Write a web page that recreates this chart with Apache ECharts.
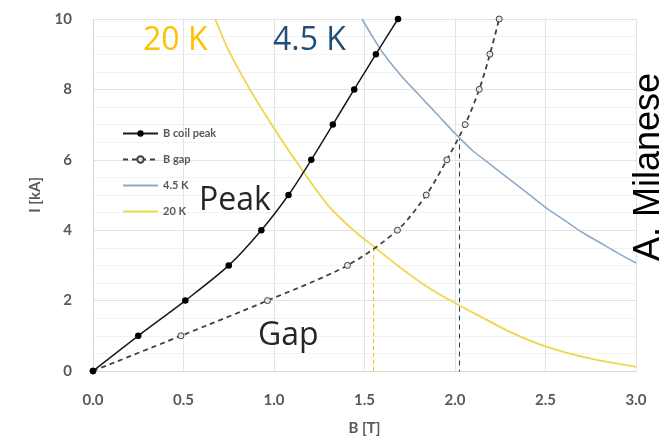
<!DOCTYPE html>
<html>
<head>
<meta charset="utf-8">
<script src="https://cdn.jsdelivr.net/npm/echarts@6/dist/echarts.min.js"></script>
<style>
html,body{margin:0;padding:0;background:#fff;}
#c{width:667px;height:441px;}
</style>
</head>
<body>
<div id="c"></div>
<script>
// ---- data ----
const coilB = [0, 0.25, 0.51, 0.75, 0.93, 1.08, 1.206, 1.325, 1.443, 1.563, 1.685];
const coilI = [0, 1, 2, 3, 4, 5, 6, 7, 8, 9, 10];

const gapB = [0, 0.486, 0.964, 1.406, 1.682, 1.841, 1.955, 2.056, 2.134, 2.193, 2.244];
const gapI = [0, 1, 2, 3, 4, 5, 6, 7, 8, 9, 10];

const k45B = [1.486, 1.55, 1.6, 1.7, 1.8, 1.9, 2.0, 2.1, 2.2, 2.3, 2.4, 2.5, 2.6, 2.7, 2.8, 2.9, 3.0];
const k45I = [10, 9.45, 9.05, 8.4, 7.85, 7.3, 6.75, 6.25, 5.85, 5.45, 5.05, 4.65, 4.3, 3.95, 3.65, 3.35, 3.07];

const k20B = [0.675, 0.75, 0.85, 0.95, 1.05, 1.16, 1.3, 1.45, 1.55, 1.7, 1.85, 2.0, 2.15, 2.3, 2.5, 2.75, 3.0];
const k20I = [10, 9.1, 8.15, 7.3, 6.5, 5.68, 4.7, 3.95, 3.54, 2.93, 2.38, 1.93, 1.52, 1.12, 0.7, 0.35, 0.12];

// operating points (drop lines)
const drop20 = [1.55, 3.54];
const drop45 = [2.025, 6.6];

const xTicks = [0, 0.5, 1.0, 1.5, 2.0, 2.5, 3.0];
const yTicks = [0, 2, 4, 6, 8, 10];

const seriesNames = ['B coil peak', 'B gap', '4.5 K', '20 K'];

const zip = (a, b) => a.map((v, i) => [v, b[i]]);

const chart = echarts.init(document.getElementById('c'), null, {renderer: 'canvas'});
const tickFont = {color: '#595959', fontWeight: 'bold', fontSize: 15, fontFamily: 'Lato, "Open Sans", sans-serif'};
const bigFont = '32px "Open Sans", Lato, sans-serif';

chart.setOption({
  animation: false,
  backgroundColor: '#fff',
  grid: {left: 93, right: 31, top: 19, bottom: 67},
  legend: {
    data: [
      {name: seriesNames[0]},
      {name: seriesNames[1]},
      {name: seriesNames[2], itemStyle: {opacity: 0}},
      {name: seriesNames[3], itemStyle: {opacity: 0}}
    ],
    orient: 'vertical',
    left: 117, top: 123,
    itemWidth: 35, itemHeight: 8, itemGap: 15,
    textStyle: {color: '#595959', fontWeight: 'bold', fontSize: 11, fontFamily: 'Lato, "Open Sans", sans-serif'}
  },
  xAxis: {
    type: 'value', min: xTicks[0], max: xTicks[xTicks.length - 1], interval: 0.5,
    name: 'B [T]', nameLocation: 'middle', nameGap: 50,
    nameTextStyle: tickFont,
    axisLine: {lineStyle: {color: '#d9d9d9'}},
    axisTick: {show: false},
    axisLabel: Object.assign({margin: 22, formatter: v => v.toFixed(1)}, tickFont),
    splitLine: {lineStyle: {color: '#e3e3e3'}}
  },
  yAxis: {
    type: 'value', min: yTicks[0], max: yTicks[yTicks.length - 1], interval: 2,
    name: 'I [kA]', nameLocation: 'middle', nameGap: 50,
    nameTextStyle: tickFont,
    axisLine: {show: true, lineStyle: {color: '#d9d9d9'}},
    axisTick: {show: false},
    axisLabel: Object.assign({margin: 21}, tickFont),
    splitLine: {lineStyle: {color: '#e3e3e3'}},
    minorTick: {show: false, splitNumber: 4},
    minorSplitLine: {show: true, lineStyle: {color: '#f2f2f2'}}
  },
  series: [
    {
      name: '20 K drop', type: 'line', data: [[drop20[0], 0], drop20],
      symbol: 'none', lineStyle: {color: '#ffc000', width: 1, type: [4, 3]}, z: 1
    },
    {
      name: '4.5 K drop', type: 'line', data: [[drop45[0], -0.1], drop45],
      symbol: 'none', lineStyle: {color: '#1f3864', width: 1, type: [5, 4]}, z: 1
    },
    {
      name: '4.5 K', type: 'line', data: zip(k45B, k45I), smooth: 0.3,
      symbol: 'none', lineStyle: {color: '#8eaacb', width: 1.6}, itemStyle: {color: '#8eaacb'}, z: 2
    },
    {
      name: '20 K', type: 'line', data: zip(k20B, k20I), smooth: 0.3,
      symbol: 'none', lineStyle: {color: '#efd64c', width: 1.8}, itemStyle: {color: '#efd64c'}, z: 2
    },
    {
      name: 'B gap', type: 'line', data: zip(gapB, gapI), smooth: 0.3,
      symbol: 'circle', symbolSize: 6,
      lineStyle: {color: '#404040', width: 1.8, type: [5, 4]},
      itemStyle: {color: '#e6e6e6', borderColor: '#404040', borderWidth: 1}, z: 3
    },
    {
      name: 'B coil peak', type: 'line', data: zip(coilB, coilI), smooth: 0.3,
      symbol: 'circle', symbolSize: 6.5,
      lineStyle: {color: '#1a1a1a', width: 1.5},
      itemStyle: {color: '#000'}, z: 4
    }
  ],
  graphic: [
    {type: 'text', z: 100, left: 143, top: 25, style: {text: '20 K', fill: '#ffc000', font: bigFont}},
    {type: 'text', z: 100, left: 273, top: 25, style: {text: '4.5 K', fill: '#1f4e79', font: bigFont}},
    {type: 'text', z: 100, left: 199, top: 185, style: {text: 'Peak', fill: '#262626', font: bigFont}},
    {type: 'text', z: 100, left: 258, top: 320, style: {text: 'Gap', fill: '#262626', font: bigFont}},
    {type: 'text', z: 100, x: 649, y: 167, rotation: Math.PI / 2,
      style: {text: 'A. Milanese', fill: '#000', font: '36px "Liberation Sans", Arial, sans-serif', align: 'center', verticalAlign: 'middle'}}
  ]
});
</script>
</body>
</html>
